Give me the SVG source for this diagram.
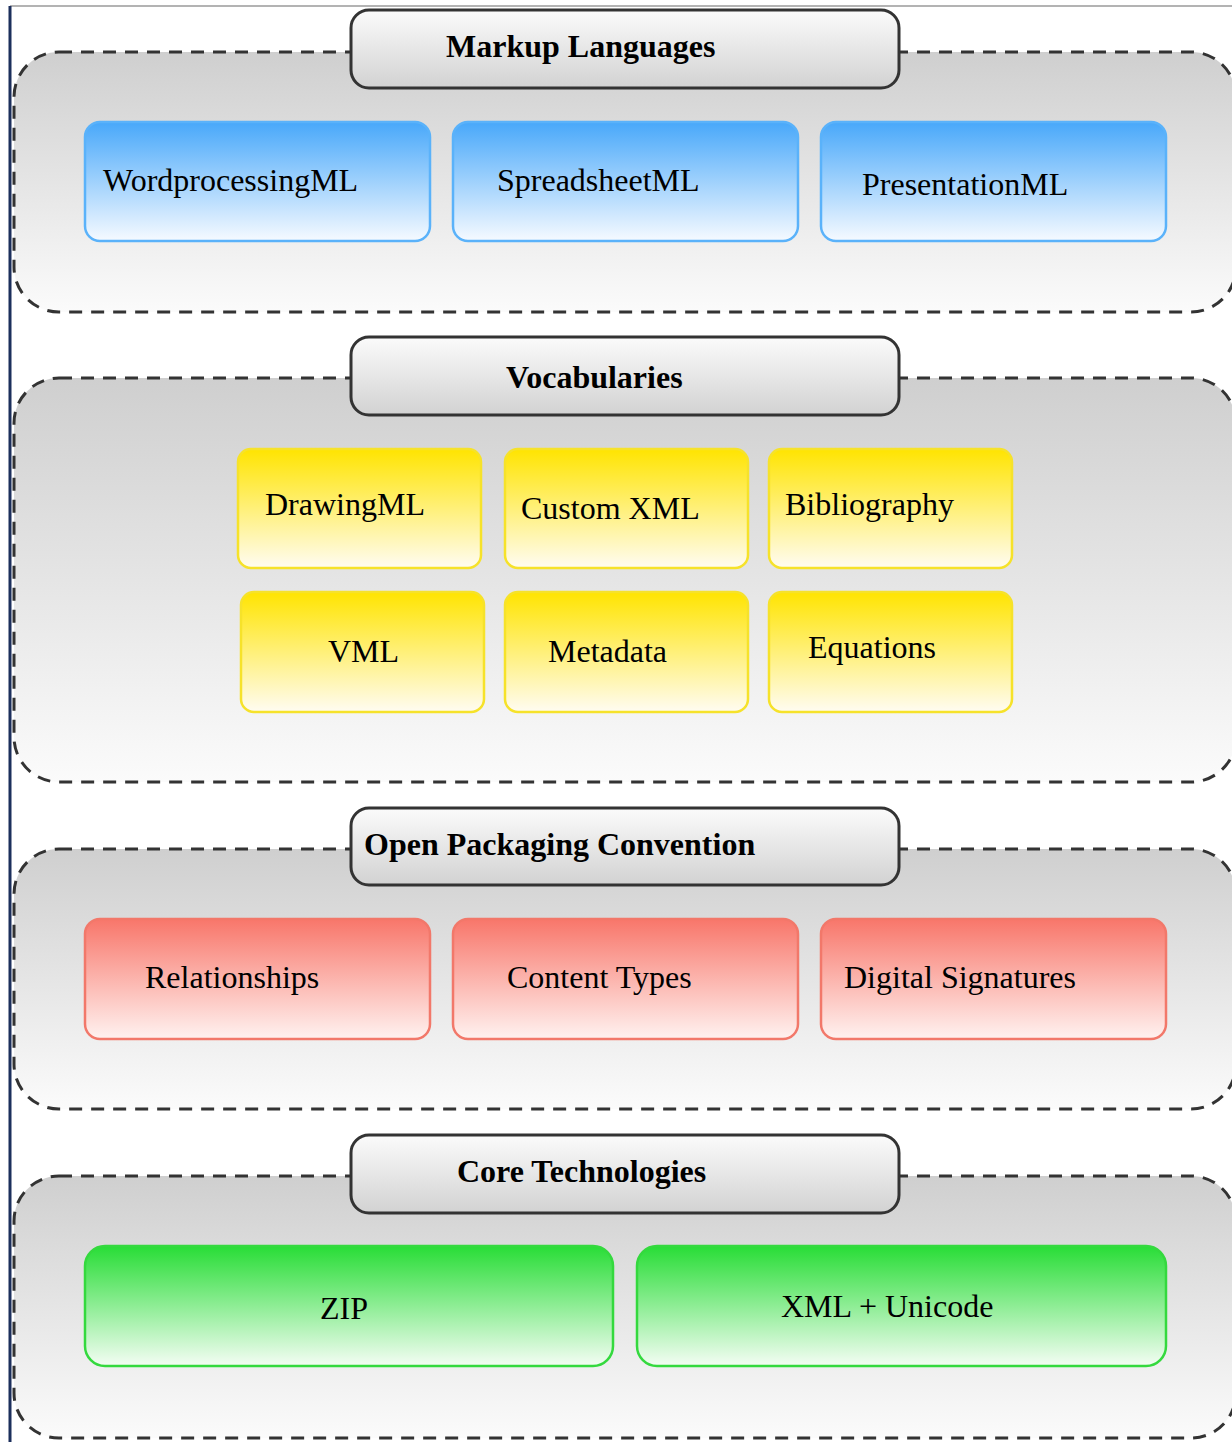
<svg xmlns="http://www.w3.org/2000/svg" width="1232" height="1442" viewBox="0 0 1232 1442">
<defs>
<linearGradient id="gCont" x1="0" y1="0" x2="0" y2="1"><stop offset="0" stop-color="#cfcfcf"/><stop offset="1" stop-color="#fbfbfb"/></linearGradient>
<linearGradient id="gTitle" x1="0" y1="0" x2="0" y2="1"><stop offset="0" stop-color="#fbfbfb"/><stop offset="1" stop-color="#d2d2d2"/></linearGradient>
<linearGradient id="gBlue" x1="0" y1="0" x2="0" y2="1"><stop offset="0" stop-color="#48a8fa"/><stop offset="1" stop-color="#f6faff"/></linearGradient>
<linearGradient id="gYellow" x1="0" y1="0" x2="0" y2="1"><stop offset="0" stop-color="#ffe400"/><stop offset="1" stop-color="#fffcf2"/></linearGradient>
<linearGradient id="gRed" x1="0" y1="0" x2="0" y2="1"><stop offset="0" stop-color="#f8766a"/><stop offset="1" stop-color="#fff2f0"/></linearGradient>
<linearGradient id="gGreen" x1="0" y1="0" x2="0" y2="1"><stop offset="0" stop-color="#28dd36"/><stop offset="1" stop-color="#f4fdf4"/></linearGradient>
</defs>
<style>
.cont{fill:url(#gCont);stroke:#333;stroke-width:3;stroke-dasharray:13 9}
.title{fill:url(#gTitle);stroke:#333;stroke-width:3}
.tt{font-family:"Liberation Serif",serif;font-weight:bold;font-size:32px;fill:#000}
.lbl{font-family:"Liberation Serif",serif;font-size:32px;fill:#000}
.blue{fill:url(#gBlue);stroke:#5ab2fa;stroke-width:2.5}
.yellow{fill:url(#gYellow);stroke:#f6e22a;stroke-width:2.5}
.red{fill:url(#gRed);stroke:#f2786a;stroke-width:2.5}
.green{fill:url(#gGreen);stroke:#34d93e;stroke-width:2.5}
</style>
<rect x="0" y="0" width="1232" height="1442" fill="#fff"/>
<line x1="10" y1="6" x2="1232" y2="6" stroke="#9a9a9a" stroke-width="1.5"/>
<line x1="10" y1="6" x2="10" y2="1442" stroke="#1c2f5c" stroke-width="3"/>

<g id="markup-languages">
<rect class="cont" x="14" y="52" width="1222" height="260" rx="45"/>
<rect class="title" x="351" y="10" width="548" height="78" rx="18"/>
<text class="tt" x="446" y="57">Markup Languages</text>
</g>
<g id="wordprocessingml"><rect class="blue" x="85" y="122" width="345" height="119" rx="15"/><text class="lbl" x="103" y="191">WordprocessingML</text></g>
<g id="spreadsheetml"><rect class="blue" x="453" y="122" width="345" height="119" rx="15"/><text class="lbl" x="497" y="191">SpreadsheetML</text></g>
<g id="presentationml"><rect class="blue" x="821" y="122" width="345" height="119" rx="15"/><text class="lbl" x="862" y="195">PresentationML</text></g>

<g id="vocabularies">
<rect class="cont" x="14" y="378" width="1222" height="404" rx="45"/>
<rect class="title" x="351" y="337" width="548" height="78" rx="18"/>
<text class="tt" x="506" y="388">Vocabularies</text>
</g>
<g id="drawingml"><rect class="yellow" x="238" y="449" width="243" height="119" rx="13"/><text class="lbl" x="265" y="515">DrawingML</text></g>
<g id="customxml"><rect class="yellow" x="505" y="449" width="243" height="119" rx="13"/><text class="lbl" x="521" y="519">Custom XML</text></g>
<g id="bibliography"><rect class="yellow" x="769" y="449" width="243" height="119" rx="13"/><text class="lbl" x="785" y="515">Bibliography</text></g>
<g id="vml"><rect class="yellow" x="241" y="592" width="243" height="120" rx="13"/><text class="lbl" x="328" y="662">VML</text></g>
<g id="metadata"><rect class="yellow" x="505" y="592" width="243" height="120" rx="13"/><text class="lbl" x="548" y="662">Metadata</text></g>
<g id="equations"><rect class="yellow" x="769" y="592" width="243" height="120" rx="13"/><text class="lbl" x="808" y="658">Equations</text></g>

<g id="opc">
<rect class="cont" x="14" y="849" width="1222" height="260" rx="45"/>
<rect class="title" x="351" y="808" width="548" height="77" rx="18"/>
<text class="tt" x="364" y="855">Open Packaging Convention</text>
</g>
<g id="relationships"><rect class="red" x="85" y="919" width="345" height="120" rx="15"/><text class="lbl" x="145" y="988">Relationships</text></g>
<g id="contenttypes"><rect class="red" x="453" y="919" width="345" height="120" rx="15"/><text class="lbl" x="507" y="988">Content Types</text></g>
<g id="digitalsignatures"><rect class="red" x="821" y="919" width="345" height="120" rx="15"/><text class="lbl" x="844" y="988">Digital Signatures</text></g>

<g id="core">
<rect class="cont" x="14" y="1176" width="1222" height="262" rx="45"/>
<rect class="title" x="351" y="1135" width="548" height="78" rx="18"/>
<text class="tt" x="457" y="1182">Core Technologies</text>
</g>
<g id="zip"><rect class="green" x="85" y="1246" width="528" height="120" rx="20"/><text class="lbl" x="320" y="1319">ZIP</text></g>
<g id="xmlunicode"><rect class="green" x="637" y="1246" width="529" height="120" rx="20"/><text class="lbl" x="781" y="1317">XML + Unicode</text></g>

<g id="connectors"></g>
</svg>
